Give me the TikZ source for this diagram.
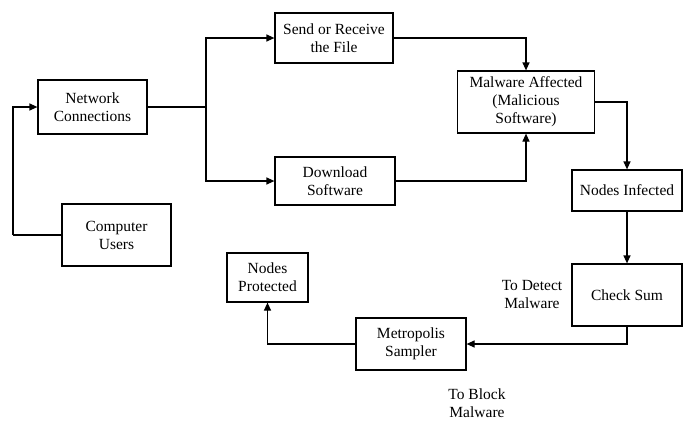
\documentclass[tikz,border=0pt]{standalone}
\usepackage{fontspec}
\setmainfont{Liberation Serif}
\usetikzlibrary{arrows.meta}
\begin{document}
\begin{tikzpicture}[x=1pt,y=-1pt,
  box/.style={draw,line width=1.2pt,align=center,inner sep=2pt,font=\fontsize{15.5}{18}\selectfont},
  lbl/.style={align=center,font=\fontsize{15.5}{18}\selectfont},
  conn/.style={line width=1.2pt},
  arr/.style={conn,-{Triangle[length=8pt,width=7pt]}}]
\useasboundingbox (0,0) rectangle (689,421);
\node[box,minimum width=109pt,minimum height=54pt] (net) at (92.5,107) {Network\\Connections};
\node[box,minimum width=118pt,minimum height=50pt] (send) at (334,38) {Send or Receive\\the File};
\node[box,minimum width=120pt,minimum height=48pt] (down) at (335,181) {Download\\Software};
\node[box,minimum width=137pt,minimum height=62pt] (mal) at (526,102) {Malware Affected\\(Malicious\\Software)};
\node[box,minimum width=110pt,minimum height=41pt] (inf) at (627,190.5) {Nodes Infected};
\node[box,minimum width=109pt,minimum height=62pt] (users) at (116.5,235) {Computer\\Users};
\node[box,minimum width=81pt,minimum height=49pt] (prot) at (267.5,277.5) {Nodes\\Protected};
\node[box,minimum width=110pt,minimum height=62pt] (check) at (627,295) {Check Sum};
\node[box,minimum width=110pt,minimum height=52pt] (metro) at (411,344) {Metropolis\\Sampler};
\node[lbl] (detect) at (532,294) {To Detect\\Malware};
\node[lbl] (block) at (477,403) {To Block\\Malware};
\coordinate (lx) at (13,235);
\coordinate (br) at (206,107);
\draw[conn] (users.west) -- (lx);
\draw[arr] (lx) |- (net.west);
\draw[conn] (net.east) -- (br);
\draw[arr] (br) |- (send.west);
\draw[arr] (br) |- (down.west);
\draw[arr] (send.east) -| (mal.north);
\draw[arr] (down.east) -| (mal.south);
\draw[arr] (mal.east) -| (inf.north);
\draw[arr] (inf.south) -- (check.north);
\draw[arr] (check.south) |- (metro.east);
\draw[arr] (metro.west) -| (prot.south);
\end{tikzpicture}
\end{document}
